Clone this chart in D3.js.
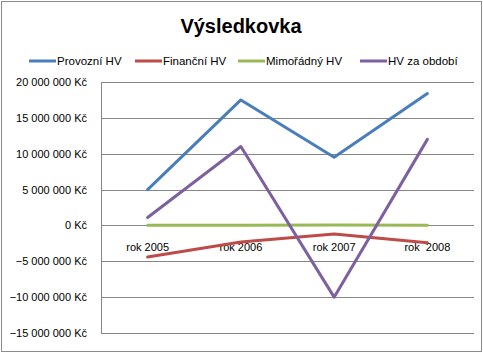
<!DOCTYPE html>
<html>
<head>
<meta charset="utf-8">
<script src="https://cdn.jsdelivr.net/npm/d3@7"></script>
<style>
  body{margin:0;background:#fff;}
  svg{display:block;}
</style>
</head>
<body>
<div id="chart"></div>
<script>
let w=483;
let h=353;

// data
let years=["rok 2005","rok 2006","rok 2007","rok  2008"];
let seriesNames=["Provozní HV","Finanční HV","Mimořádný HV","HV za období"];
let provozni=[5000000,17500000,9500000,18400000];
let financni=[-4400000,-2300000,-1200000,-2400000];
let mimoradny=[30000,40000,60000,40000];
let hvObdobi=[1100000,11000000,-10000000,12000000];
let yTicks=[20000000,15000000,10000000,5000000,0,-5000000,-10000000,-15000000];
let colors=["#4a7ebb","#be4b48","#98b954","#7d60a0"];

let allSeries=[provozni,financni,mimoradny,hvObdobi];

let svg=d3.select("#chart").append("svg")
  .attr("width",w)
  .attr("height",h);

// outer frame
svg.append("rect")
  .attr("x",1.5).attr("y",1.5)
  .attr("width",w-3).attr("height",h-3)
  .attr("fill","white")
  .attr("stroke","#8c8c8c")
  .attr("stroke-width",1);

let plotLeft=101, plotRight=474, plotTop=82, plotBottom=333;

let xScale=d3.scalePoint().domain(years).range([plotLeft,plotRight]).padding(0.5);
let yScale=d3.scaleLinear().domain([-15000000,20000000]).range([plotBottom,plotTop]);

let font="'Liberation Sans', Arial, sans-serif";

// title
svg.append("text")
  .text("Výsledkovka")
  .attr("x",241)
  .attr("y",33)
  .attr("text-anchor","middle")
  .style("font-family",font)
  .style("font-weight","bold")
  .style("font-size","20px")
  .attr("fill","#000");

// gridlines
svg.append("g").selectAll("line").data(yTicks).enter()
  .append("line")
  .attr("x1",plotLeft).attr("x2",plotRight)
  .attr("y1",d=>Math.round(yScale(d))+0.5)
  .attr("y2",d=>Math.round(yScale(d))+0.5)
  .attr("stroke","#868686")
  .attr("stroke-width",1);

// y axis line
svg.append("line")
  .attr("x1",plotLeft+0.5).attr("x2",plotLeft+0.5)
  .attr("y1",Math.round(yScale(20000000))+0.5)
  .attr("y2",Math.round(yScale(-15000000))+0.5)
  .attr("stroke","#868686");

// y labels
let fmt=function(d){
  let s=d3.format(",")(d).replace(/,/g," ");
  return s+" Kč";
};
svg.append("g").selectAll("text").data(yTicks).enter()
  .append("text")
  .text(fmt)
  .attr("x",87)
  .attr("y",d=>yScale(d)+4)
  .attr("text-anchor","end")
  .style("font-family",font)
  .style("font-size","11px")
  .attr("fill","#000");

// category labels, sitting next to zero line
svg.append("g").selectAll("text").data(years).enter()
  .append("text")
  .text(d=>d)
  .attr("x",d=>xScale(d))
  .attr("y",yScale(0)+26)
  .attr("text-anchor","middle")
  .style("white-space","pre")
  .style("font-family",font)
  .style("font-size","11px")
  .attr("fill","#000");

// lines
let lineMaker=d3.line()
  .x((d,i)=>xScale(years[i]))
  .y(d=>yScale(d));

svg.append("g").selectAll("path").data(allSeries).enter()
  .append("path")
  .attr("d",lineMaker)
  .attr("fill","none")
  .attr("stroke",(d,i)=>colors[i])
  .attr("stroke-width",3)
  .attr("stroke-linejoin","round")
  .attr("stroke-linecap","round");

// legend
let legendX=[29,135,238,360];
let legend=svg.append("g").selectAll("g").data(seriesNames).enter()
  .append("g")
  .attr("transform",(d,i)=>"translate("+legendX[i]+",61)");
legend.append("line")
  .attr("x1",0).attr("x2",27)
  .attr("y1",0).attr("y2",0)
  .attr("stroke",(d,i)=>colors[i])
  .attr("stroke-width",3);
legend.append("text")
  .text(d=>d)
  .attr("x",28)
  .attr("y",4)
  .style("font-family",font)
  .style("font-size","11.5px")
  .attr("fill","#000");
</script>
</body>
</html>
